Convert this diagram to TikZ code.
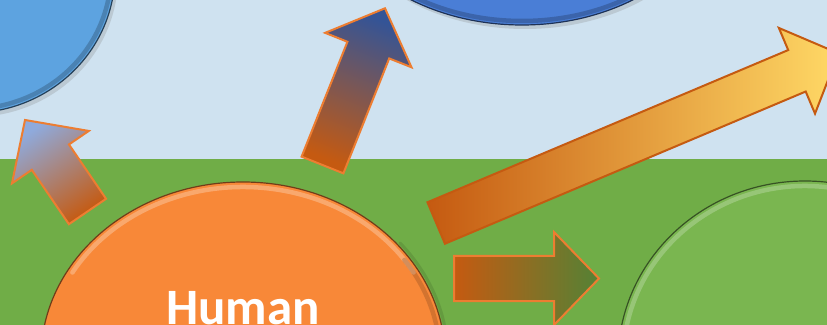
\documentclass[tikz,border=0pt]{standalone}
\usepackage{fontspec}
\setmainfont{Carlito}
\usetikzlibrary{shapes.geometric,calc,shadows}
\definecolor{skycolor}{RGB}{207,226,240}
\definecolor{groundcolor}{RGB}{112,173,71}
\definecolor{paleskycolor}{RGB}{93,163,224}
\definecolor{bluecolor}{RGB}{74,126,214}
\definecolor{humancolor}{RGB}{248,136,56}
\definecolor{greencolor}{RGB}{122,182,80}
\definecolor{arrowline}{RGB}{237,125,49}
\definecolor{arrowdark}{RGB}{197,90,17}
\definecolor{navycolor}{RGB}{52,84,150}
\definecolor{paleblue}{RGB}{143,170,220}
\definecolor{yellowcolor}{RGB}{255,217,102}
\definecolor{leafcolor}{RGB}{84,130,53}

% block arrow from tail #2 to tip #3
\newcommand{\blockarrow}[3][]{%
  \coordinate (neck) at ($(#3)!45pt!(#2)$);
  \draw[arrowbox, #1]
    ($(#2)!22.5pt!90:(#3)$) -- ($(neck)!22.5pt!90:(#3)$) -- ($(neck)!46.5pt!90:(#3)$)
    -- (#3) -- ($(neck)!46.5pt!-90:(#3)$) -- ($(neck)!22.5pt!-90:(#3)$)
    -- ($(#2)!22.5pt!-90:(#3)$) -- cycle;
}

\begin{document}
\begin{tikzpicture}[
    x=1pt, y=1pt,
    bubble/.style={ellipse, inner sep=0pt, outer sep=0pt, line width=1.2pt},
    shadowed/.style={drop shadow={shadow xshift=3pt, shadow yshift=-4pt, opacity=0.25}},
    rim/.style={line width=4.5pt, line cap=round, opacity=0.45},
    arrowbox/.style={line width=2pt, draw=arrowline, line join=miter},
    humanlabel/.style={text=white, font=\fontsize{51pt}{60pt}\selectfont\bfseries}
]
\useasboundingbox (0,0) rectangle (827,324);
\clip (-2,-2) rectangle (829,326);

% sky and ground
\fill[skycolor] (-2,164.5) rectangle (829,326);
\fill[groundcolor] (-2,-2) rectangle (829,164.5);

% ellipses
\node[bubble, shadowed, fill=paleskycolor, draw=paleskycolor!40!black, minimum width=290pt, minimum height=280pt] (sky1) at (-30,351) {};
\node[bubble, shadowed, fill=bluecolor, draw=bluecolor!40!black, minimum width=400pt, minimum height=300pt] (sky2) at (522,449) {};
\node[bubble, fill=humancolor, draw=humancolor!45!black, minimum width=404pt, minimum height=352pt] (human) at (243,-34) {};
\node[bubble, fill=greencolor, draw=greencolor!45!black, minimum width=374pt, minimum height=360pt] (green) at (805,-37) {};

% bevel rims and shading at the edges
\draw[rim, draw=black, opacity=0.2] ([shift={(-100:141 and 136)}]sky1.center) arc[start angle=-100, end angle=10, x radius=141, y radius=136];
\draw[rim, draw=black, opacity=0.2] ([shift={(230:196 and 146)}]sky2.center) arc[start angle=230, end angle=310, x radius=196, y radius=146];
\draw[rim, draw=humancolor!40!white] ([shift={(30:197 and 171)}]human.center) arc[start angle=30, end angle=150, x radius=197, y radius=171];
\draw[rim, draw=black, opacity=0.15] ([shift={(-10:197 and 171)}]human.center) arc[start angle=-10, end angle=35, x radius=197, y radius=171];
\draw[rim, draw=black, line width=3pt, opacity=0.1] ([shift={(-10:205 and 179)}]human.center) arc[start angle=-10, end angle=40, x radius=205, y radius=179];
\draw[rim, draw=greencolor!50!white] ([shift={(80:182 and 175)}]green.center) arc[start angle=80, end angle=170, x radius=182, y radius=175];

% arrows
\coordinate (tail1) at (87.5,112.5);
\coordinate (tip1) at (25,204);
\coordinate (tail2) at (322.5,159);
\coordinate (tip2) at (385,315.7);
\coordinate (tail3) at (436.2,101);
\coordinate (tip3) at (838.4,270.7);
\coordinate (tail4) at (454,45.5);
\coordinate (tip4) at (599,45.5);

\blockarrow[top color=paleblue, bottom color=arrowdark, shading angle=34.3]{tail1}{tip1}
\blockarrow[top color=navycolor, bottom color=arrowdark, shading angle=-21.75]{tail2}{tip2}
\blockarrow[left color=arrowdark, right color=yellowcolor, draw=arrowdark]{tail3}{tip3}
\blockarrow[left color=arrowdark, right color=leafcolor]{tail4}{tip4}

% text
\node[humanlabel, anchor=base] (humantext) at ([yshift=33.5pt]human.center) {Human};

\end{tikzpicture}
\end{document}
